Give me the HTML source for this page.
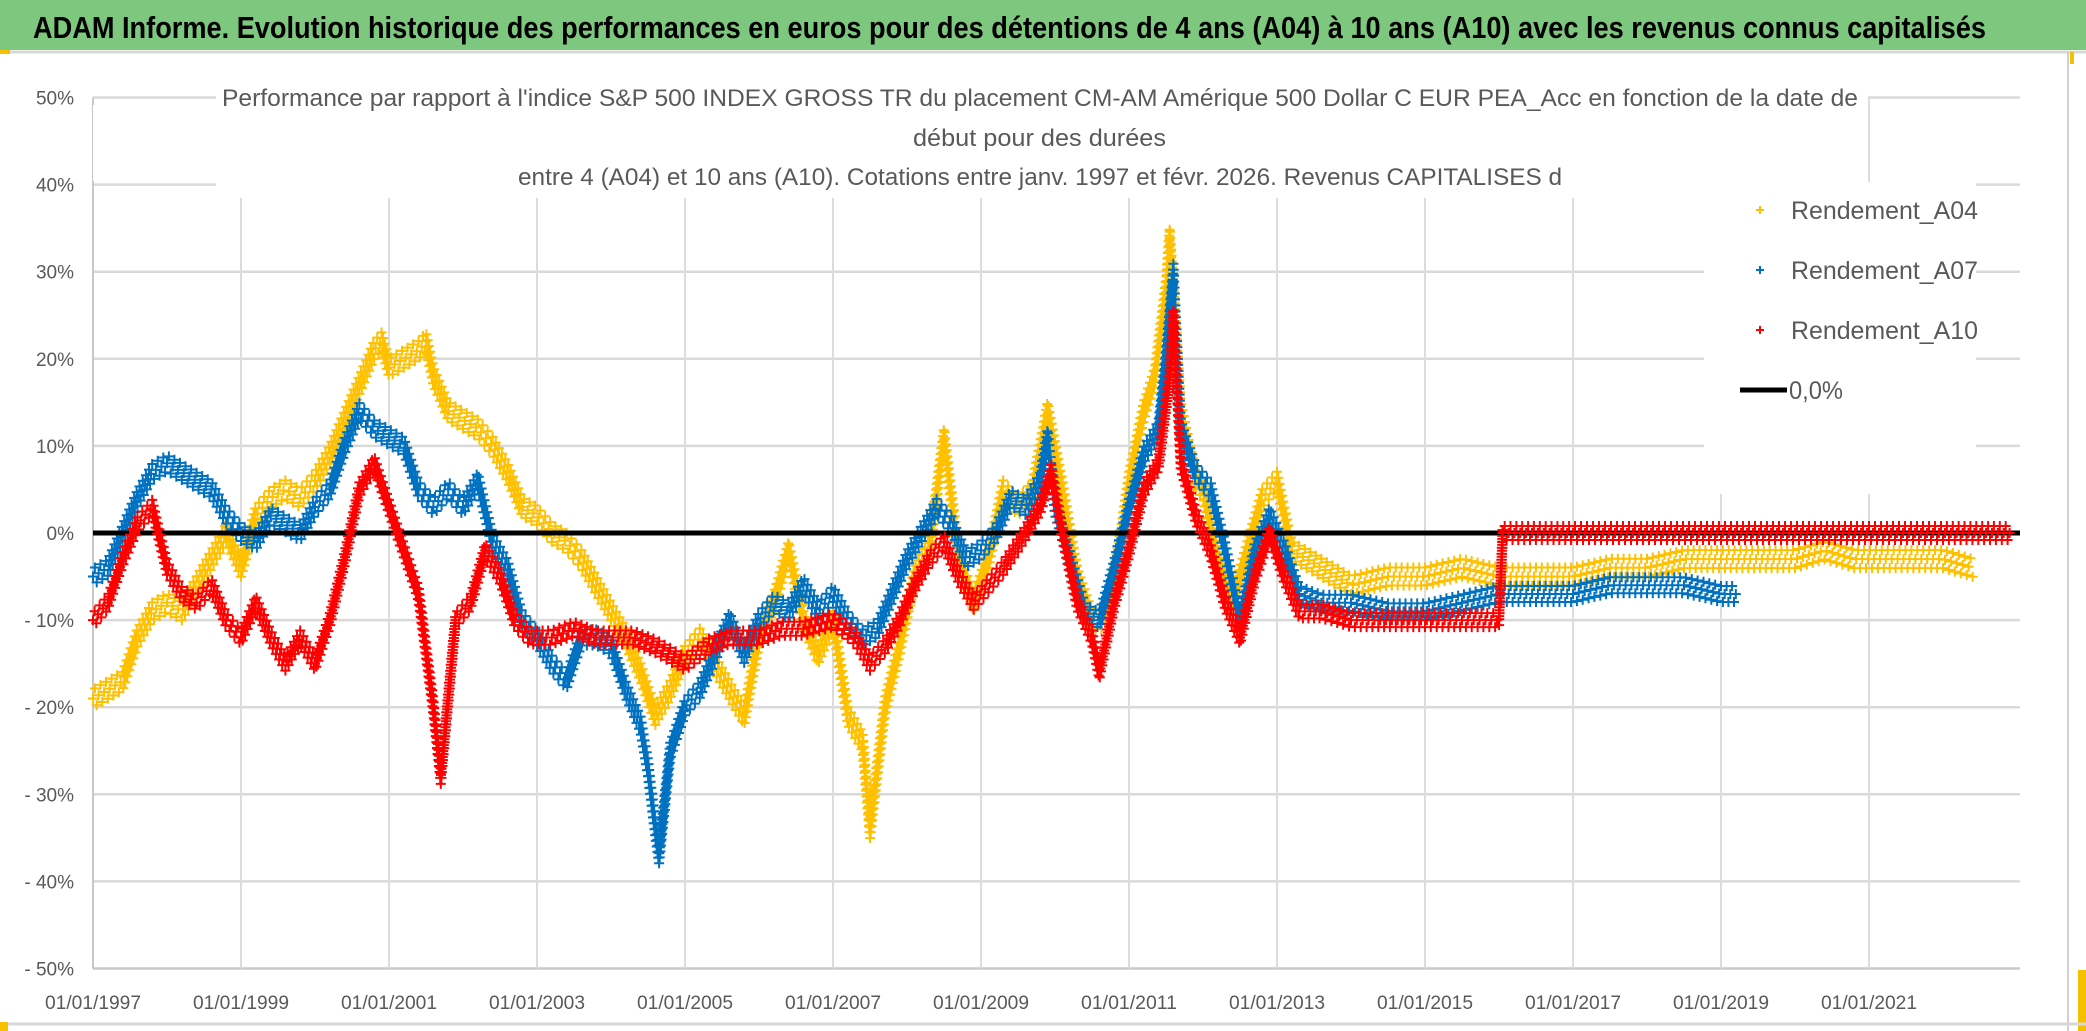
<!DOCTYPE html>
<html><head><meta charset="utf-8"><style>
html,body{margin:0;padding:0;background:#fff;}
svg{display:block;font-family:"Liberation Sans",sans-serif;}
</style></head><body>
<svg id="chart" width="2086" height="1031" viewBox="0 0 2086 1031" xmlns="http://www.w3.org/2000/svg">
<rect x="0" y="0" width="2086" height="1031" fill="#fff"/>
<rect x="0" y="0" width="2086" height="50" fill="#7dc87e"/>
<line x1="0" y1="52" x2="2086" y2="52" stroke="#d8d8d8" stroke-width="3"/>
<rect x="0" y="50" width="10" height="4" fill="#f6c000"/>
<text x="33" y="38" font-size="31" font-weight="bold" fill="#000" textLength="1953" lengthAdjust="spacingAndGlyphs">ADAM Informe. Evolution historique des performances en euros pour des détentions de 4 ans (A04) à 10 ans (A10) avec les revenus connus capitalisés</text>
<line x1="2068" y1="52" x2="2068" y2="1031" stroke="#d0d0d0" stroke-width="2"/>
<rect x="2078" y="970" width="8" height="61" fill="#f6c000"/>
<rect x="2070" y="52" width="4" height="12" fill="#f6c000"/>
<line x1="0" y1="1024" x2="2086" y2="1024" stroke="#d8d8d8" stroke-width="3"/>
<rect x="0" y="1022" width="8" height="9" fill="#f6c000"/>
<g id="grid"></g>
<g id="series"></g>
<rect x="216" y="80" width="1652" height="118" fill="#fff"/>
<rect x="93" y="105" width="122" height="76" fill="#fff"/>
<g fill="#595959" font-size="24">
<text x="222" y="106" textLength="1636" lengthAdjust="spacingAndGlyphs">Performance par rapport à l'indice S&amp;P 500 INDEX GROSS TR  du placement CM-AM Amérique 500 Dollar C EUR PEA_Acc en fonction de la date de</text>
<text x="913" y="146" textLength="253" lengthAdjust="spacingAndGlyphs">début pour des durées</text>
<text x="518" y="185" textLength="1044" lengthAdjust="spacingAndGlyphs">entre 4 (A04) et 10 ans (A10). Cotations entre janv. 1997 et févr. 2026. Revenus CAPITALISES d</text>
</g>
<rect x="1704" y="182" width="272" height="312" fill="#fff"/>
<g font-size="25" fill="#595959">
<g><path d="M1756 210h8M1760 206v8" stroke="#ffc000" stroke-width="2"/><text x="1791" y="219" textLength="187" lengthAdjust="spacingAndGlyphs">Rendement_A04</text></g>
<g><path d="M1756 270h8M1760 266v8" stroke="#0070c0" stroke-width="2"/><text x="1791" y="279" textLength="187" lengthAdjust="spacingAndGlyphs">Rendement_A07</text></g>
<g><path d="M1756 330h8M1760 326v8" stroke="#ff0000" stroke-width="2"/><text x="1791" y="339" textLength="187" lengthAdjust="spacingAndGlyphs">Rendement_A10</text></g>
<g><line x1="1740" y1="390" x2="1787" y2="390" stroke="#000" stroke-width="5"/><text x="1789" y="399" textLength="54" lengthAdjust="spacingAndGlyphs">0,0%</text></g>
</g>
</svg>
<script>
const yTicks = [50,40,30,20,10,0,-10,-20,-30,-40,-50];
const yTickLabels = ["50%","40%","30%","20%","10%","0%","- 10%","- 20%","- 30%","- 40%","- 50%"];
const xTickYears = [1997,1999,2001,2003,2005,2007,2009,2011,2013,2015,2017,2019,2021];
const xTickLabels = ["01/01/1997","01/01/1999","01/01/2001","01/01/2003","01/01/2005","01/01/2007","01/01/2009","01/01/2011","01/01/2013","01/01/2015","01/01/2017","01/01/2019","01/01/2021"];
const zeroLineValue = 0;
const a04Years = [1997.0,1997.2,1997.4,1997.6,1997.8,1998.0,1998.2,1998.4,1998.6,1998.8,1999.0,1999.2,1999.4,1999.6,1999.8,2000.0,2000.2,2000.4,2000.6,2000.8,2000.9,2001.0,2001.2,2001.4,2001.5,2001.6,2001.8,2002.0,2002.2,2002.4,2002.6,2002.8,2003.0,2003.2,2003.4,2003.6,2003.8,2004.0,2004.2,2004.4,2004.6,2004.8,2005.0,2005.2,2005.4,2005.6,2005.8,2006.0,2006.2,2006.4,2006.6,2006.8,2007.0,2007.2,2007.4,2007.5,2007.7,2007.9,2008.1,2008.3,2008.5,2008.7,2008.9,2009.1,2009.3,2009.5,2009.7,2009.9,2010.1,2010.3,2010.5,2010.7,2010.9,2011.0,2011.2,2011.35,2011.5,2011.55,2011.7,2011.9,2012.0,2012.2,2012.4,2012.6,2012.8,2013.0,2013.2,2013.4,2013.6,2013.8,2014.0,2014.5,2015.0,2015.5,2016.0,2016.5,2017.0,2017.5,2018.0,2018.5,2019.0,2019.5,2020.0,2020.4,2020.8,2021.2,2021.6,2022.0,2022.4];
const a04Values = [-19,-18,-17,-12,-9,-8,-9,-6,-3,0,-4,2,4,5,4,6,9,13,17,21,22,19,20,21,22,18,14,13,12,10,7,3,2,0,-1,-3,-6,-9,-12,-16,-21,-18,-14,-12,-15,-18,-21,-12,-8,-2,-10,-14,-10,-21,-24,-34,-20,-13,-5,-2,11,-3,-8,-3,5,3,5,14,5,-5,-10,-10,0,6,14,18,28,34,14,6,5,-3,-8,-2,4,6,-2,-3,-4,-5,-6,-5,-5,-4,-5,-5,-5,-4,-4,-3,-3,-3,-3,-2,-3,-3,-3,-3,-4];
const a07Years = [1997.0,1997.2,1997.4,1997.6,1997.8,1998.0,1998.2,1998.4,1998.6,1998.8,1999.0,1999.2,1999.4,1999.6,1999.8,2000.0,2000.2,2000.4,2000.6,2000.8,2001.0,2001.2,2001.4,2001.6,2001.8,2002.0,2002.2,2002.4,2002.6,2002.8,2003.0,2003.2,2003.4,2003.6,2003.8,2004.0,2004.2,2004.4,2004.5,2004.6,2004.65,2004.8,2005.0,2005.2,2005.4,2005.6,2005.8,2006.0,2006.2,2006.4,2006.6,2006.8,2007.0,2007.2,2007.4,2007.6,2007.8,2008.0,2008.2,2008.4,2008.6,2008.8,2009.0,2009.2,2009.4,2009.6,2009.8,2009.9,2010.0,2010.2,2010.4,2010.6,2010.8,2011.0,2011.2,2011.4,2011.5,2011.6,2011.7,2011.9,2012.1,2012.3,2012.5,2012.7,2012.9,2013.1,2013.3,2013.6,2014.0,2014.5,2015.0,2015.5,2016.0,2016.5,2017.0,2017.5,2018.0,2018.5,2019.0,2019.2];
const a07Values = [-5,-4,0,4,7,8,7,6,5,2,0,-1,2,1,0,3,5,10,14,12,11,10,5,3,5,3,6,-1,-4,-10,-12,-15,-17,-12,-12,-13,-18,-22,-27,-34,-37,-25,-20,-18,-14,-10,-14,-10,-8,-9,-6,-9,-7,-10,-12,-11,-7,-3,0,3,1,-3,-2,0,4,3,6,11,3,-3,-9,-10,-4,3,9,12,20,30,12,7,5,-2,-10,-2,2,-2,-7,-8,-8,-9,-9,-8,-7,-7,-7,-6,-6,-6,-7,-7];
const a10Years = [1997.0,1997.2,1997.4,1997.6,1997.8,1998.0,1998.2,1998.4,1998.6,1998.8,1999.0,1999.2,1999.4,1999.6,1999.8,2000.0,2000.2,2000.4,2000.6,2000.8,2001.0,2001.2,2001.4,2001.6,2001.7,2001.9,2002.1,2002.3,2002.5,2002.7,2002.9,2003.2,2003.5,2003.8,2004.0,2004.3,2004.6,2004.8,2005.0,2005.3,2005.6,2006.0,2006.3,2006.6,2007.0,2007.3,2007.5,2007.7,2007.9,2008.1,2008.3,2008.5,2008.7,2008.9,2009.1,2009.3,2009.6,2009.8,2009.95,2010.1,2010.3,2010.5,2010.6,2010.8,2011.0,2011.2,2011.4,2011.55,2011.6,2011.7,2011.9,2012.1,2012.3,2012.5,2012.7,2012.9,2013.1,2013.3,2013.6,2014.0,2014.5,2015.0,2015.5,2016.0,2016.05,2017.0,2018.0,2019.0,2020.0,2021.0,2022.0,2022.9];
const a10Values = [-10,-8,-3,1,3,-4,-7,-8,-6,-10,-12,-8,-12,-15,-12,-15,-10,-3,5,8,3,-2,-7,-20,-28,-10,-8,-2,-5,-10,-12,-12,-11,-12,-12,-12,-13,-14,-15,-13,-12,-12,-11,-11,-10,-12,-15,-13,-10,-6,-3,-1,-5,-8,-6,-4,0,3,7,0,-8,-12,-16,-8,-2,5,8,18,25,8,2,-2,-8,-12,-5,0,-5,-9,-9,-10,-10,-10,-10,-10,0,0,0,0,0,0,0,0];

const NS = "http://www.w3.org/2000/svg";
const X0 = 93, PX_PER_YEAR = 74, Y0 = 533, PX_PER_PCT = 8.71, XRIGHT = 2020;
function xScale(yr){ return X0 + (yr - 1997) * PX_PER_YEAR; }
function yScale(v){ return Y0 - v * PX_PER_PCT; }

const grid = document.getElementById('grid');
yTicks.forEach((t,i)=>{
  const ln = document.createElementNS(NS,'line');
  
  
  ln.setAttribute('x1',X0); ln.setAttribute('x2',XRIGHT);
  ln.setAttribute('y1',yScale(t)); ln.setAttribute('y2',yScale(t));
  ln.setAttribute('stroke', t===-50 ? '#c8c8c8' : '#d9d9d9'); ln.setAttribute('stroke-width',2.5);
  grid.appendChild(ln);
  const tx = document.createElementNS(NS,'text');
  
  
  tx.setAttribute('x',74); tx.setAttribute('y',yScale(t)+7);
  tx.setAttribute('text-anchor','end'); tx.setAttribute('font-size','19'); tx.setAttribute('fill','#595959');
  tx.textContent = yTickLabels[i];
  grid.appendChild(tx);
});
xTickYears.forEach((yr,i)=>{
  const ln = document.createElementNS(NS,'line');
  
  
  ln.setAttribute('x1',xScale(yr)); ln.setAttribute('x2',xScale(yr));
  ln.setAttribute('y1',yScale(50)); ln.setAttribute('y2',yScale(-50));
  ln.setAttribute('stroke', yr===1997 ? '#c8c8c8' : '#dcdcdc'); ln.setAttribute('stroke-width',2);
  grid.appendChild(ln);
  const tx = document.createElementNS(NS,'text');
  
  
  tx.setAttribute('x',xScale(yr)-48); tx.setAttribute('y',1009);
  tx.setAttribute('font-size','19'); tx.setAttribute('fill','#595959');
  tx.setAttribute('textLength','96'); tx.setAttribute('lengthAdjust','spacingAndGlyphs');
  tx.textContent = xTickLabels[i];
  grid.appendChild(tx);
});

const seriesG = document.getElementById('series');
function drawSeries(name, years, values, color, spread){
  const g = document.createElementNS(NS,'g');
  
  
  let d = '';
  let cnt = 0;
  const plus = (x,y)=>{
    const off = [0, -spread, spread][cnt % 3];
    cnt++;
    const yy = y + off;
    d += `M${(x-5).toFixed(1)} ${yy.toFixed(1)}h10M${x.toFixed(1)} ${(yy-5).toFixed(1)}v10`;
  };
  for(let i=0;i<years.length;i++){
    const x = xScale(years[i]), y = yScale(values[i]);
    plus(x,y);
    if(i < years.length-1){
      const x2 = xScale(years[i+1]), y2 = yScale(values[i+1]);
      const n = Math.max(1, Math.ceil(Math.max(Math.abs(x2-x), Math.abs(y2-y)) / 2));
      for(let k=1;k<n;k++){ const f=k/n; plus(x+(x2-x)*f, y+(y2-y)*f); }
    }
  }
  const p = document.createElementNS(NS,'path');
  
  
  p.setAttribute('d', d); p.setAttribute('stroke', color); p.setAttribute('stroke-width', 2); p.setAttribute('fill','none');
  g.appendChild(p);
  seriesG.appendChild(g);
}
drawSeries('series-a04', a04Years, a04Values, '#ffc000', 9);
drawSeries('series-a07', a07Years, a07Values, '#0070c0', 8);
const zl = document.createElementNS(NS,'line');


zl.setAttribute('x1',X0); zl.setAttribute('x2',XRIGHT);
zl.setAttribute('y1',yScale(zeroLineValue)); zl.setAttribute('y2',yScale(zeroLineValue));
zl.setAttribute('stroke','#000'); zl.setAttribute('stroke-width',5);
seriesG.appendChild(zl);
drawSeries('series-a10', a10Years, a10Values, '#ff0000', 7);
</script>
</body></html>
